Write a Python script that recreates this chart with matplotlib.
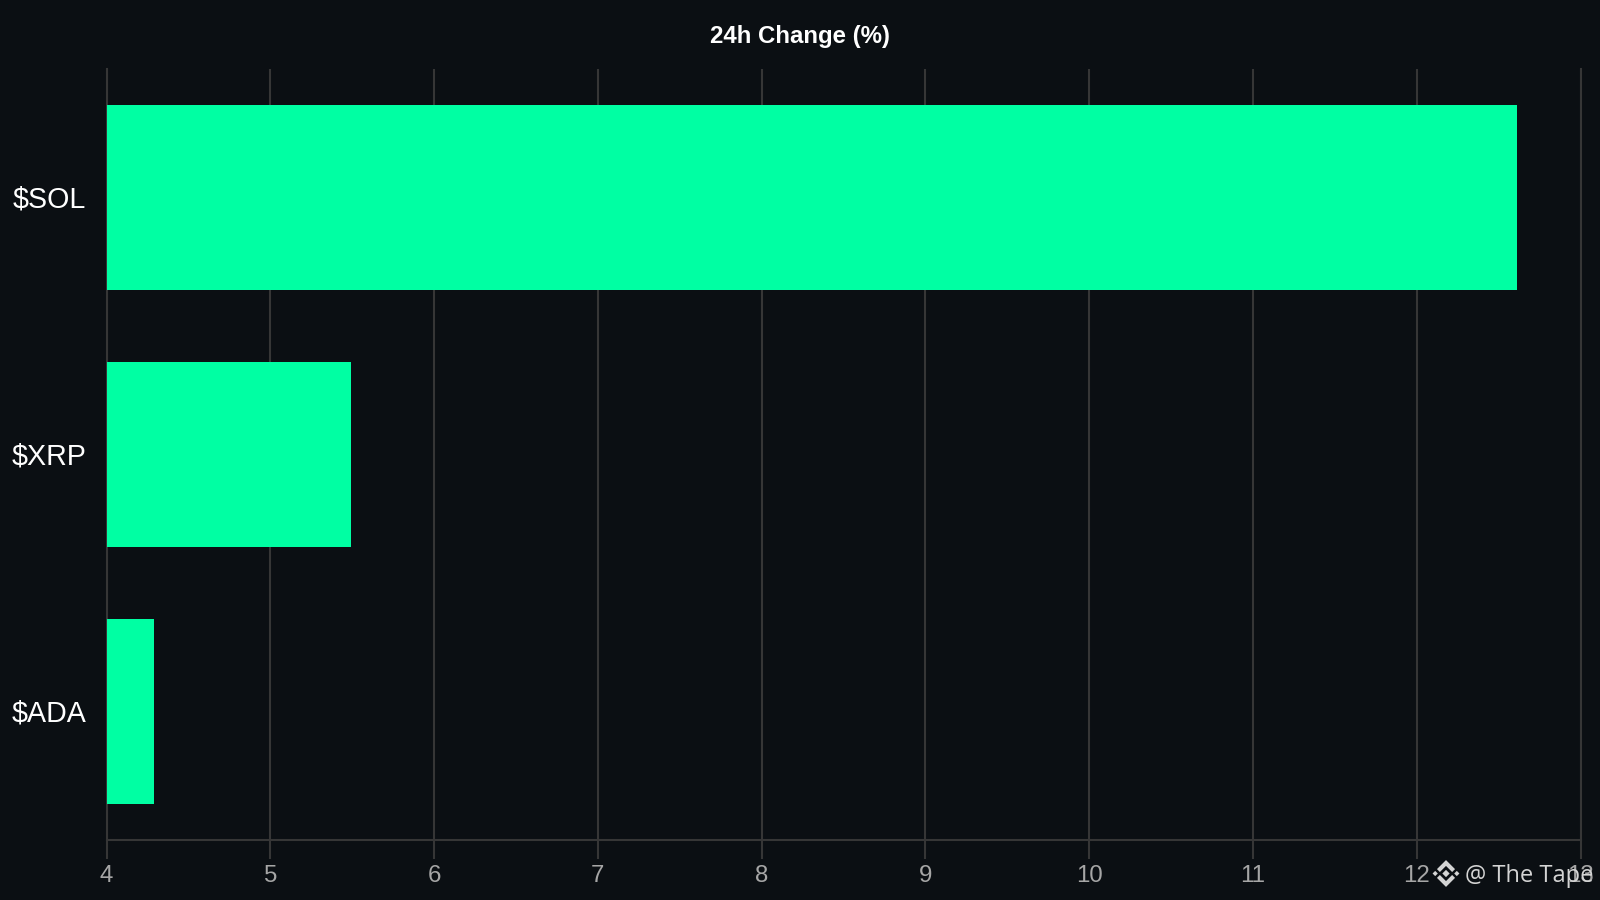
import matplotlib
matplotlib.use("Agg")
import matplotlib.pyplot as plt
from matplotlib.patches import Polygon
from matplotlib.transforms import ScaledTranslation

coins = ["$SOL", "$XRP", "$ADA"]
changes = [12.61, 5.49, 4.29]
x_ticks = [4, 5, 6, 7, 8, 9, 10, 11, 12, 13]

BG = "#0b0f13"
GRID = "#363636"
GREEN = "#00ffa3"
W, H = 1600, 900


def logo(fig, cx, cy, s):
	# little diamond mark in front of the watermark
	c = "#d4d4d4"
	pieces = [
		(0, 0, 0.25),
		(-0.74, 0, 0.18),
		(0.74, 0, 0.18),
	]
	for dx, dy, r in pieces:
		x, y = cx + dx * s, cy + dy * s
		fig.add_artist(Polygon([(x - r * s, y), (x, y + r * s), (x + r * s, y), (x, y - r * s)],
			closed=True, color=c, lw=0, transform=None))
	d = 0.2
	for sign in (1, -1):
		pts = [(cx - 0.62 * s, cy + sign * 0.30 * s), (cx, cy + sign * 0.92 * s), (cx + 0.62 * s, cy + sign * 0.30 * s),
			(cx + (0.62 - d) * s, cy + sign * (0.30 - d) * s), (cx, cy + sign * (0.92 - 2 * d) * s),
			(cx - (0.62 - d) * s, cy + sign * (0.30 - d) * s)]
		fig.add_artist(Polygon(pts, closed=True, color=c, lw=0, transform=None))


def main():
	plt.rcParams["font.family"] = ["Liberation Sans", "DejaVu Sans"]
	fig = plt.figure(figsize=(16, 9), dpi=100, facecolor=BG)
	ax = fig.add_axes([106.5 / W, 1 - 840 / H, (1580.7 - 106.5) / W, 771 / H], facecolor=BG)

	ax.barh(coins, [v - 4 for v in changes], left=4, height=0.72, color=GREEN, zorder=3)
	ax.set_ylim(2.5, -0.5)
	ax.set_xlim(4, 13)
	ax.set_xticks(x_ticks)
	ax.grid(axis="x", color=GRID, lw=1.5, zorder=1)
	ax.set_axisbelow(True)

	ax.spines["top"].set_visible(False)
	for name in ("bottom", "left", "right"):
		ax.spines[name].set_color(GRID)
		ax.spines[name].set_linewidth(1.5)

	ax.tick_params(axis="x", length=13.5, width=1.5, color=GRID, labelcolor="#a6a6a6",
		labelsize=17.3, pad=4.3)
	ax.tick_params(axis="y", length=0, labelcolor="#ffffff", labelsize=20.6, pad=14.5)
	# category labels sit a little above the bar centres
	up = ScaledTranslation(0, 1.5 / 100, fig.dpi_scale_trans)
	for lab in ax.get_yticklabels():
		lab.set_transform(lab.get_transform() + up)

	fig.text(0.5, 1 - 36 / H, "24h Change (%)", color="#ffffff", fontsize=17.3, fontweight="bold",
		ha="center", va="center")

	fig.text(1465 / W, 1 - 882 / H, "@ The Tape", color="#d4d4d4", fontsize=17, family="Open Sans",
		ha="left", va="baseline")
	logo(fig, 1446, H - 873.5, 14.6)

	fig.savefig("out.png", dpi=100, facecolor=BG)


if __name__ == "__main__":
	main()
